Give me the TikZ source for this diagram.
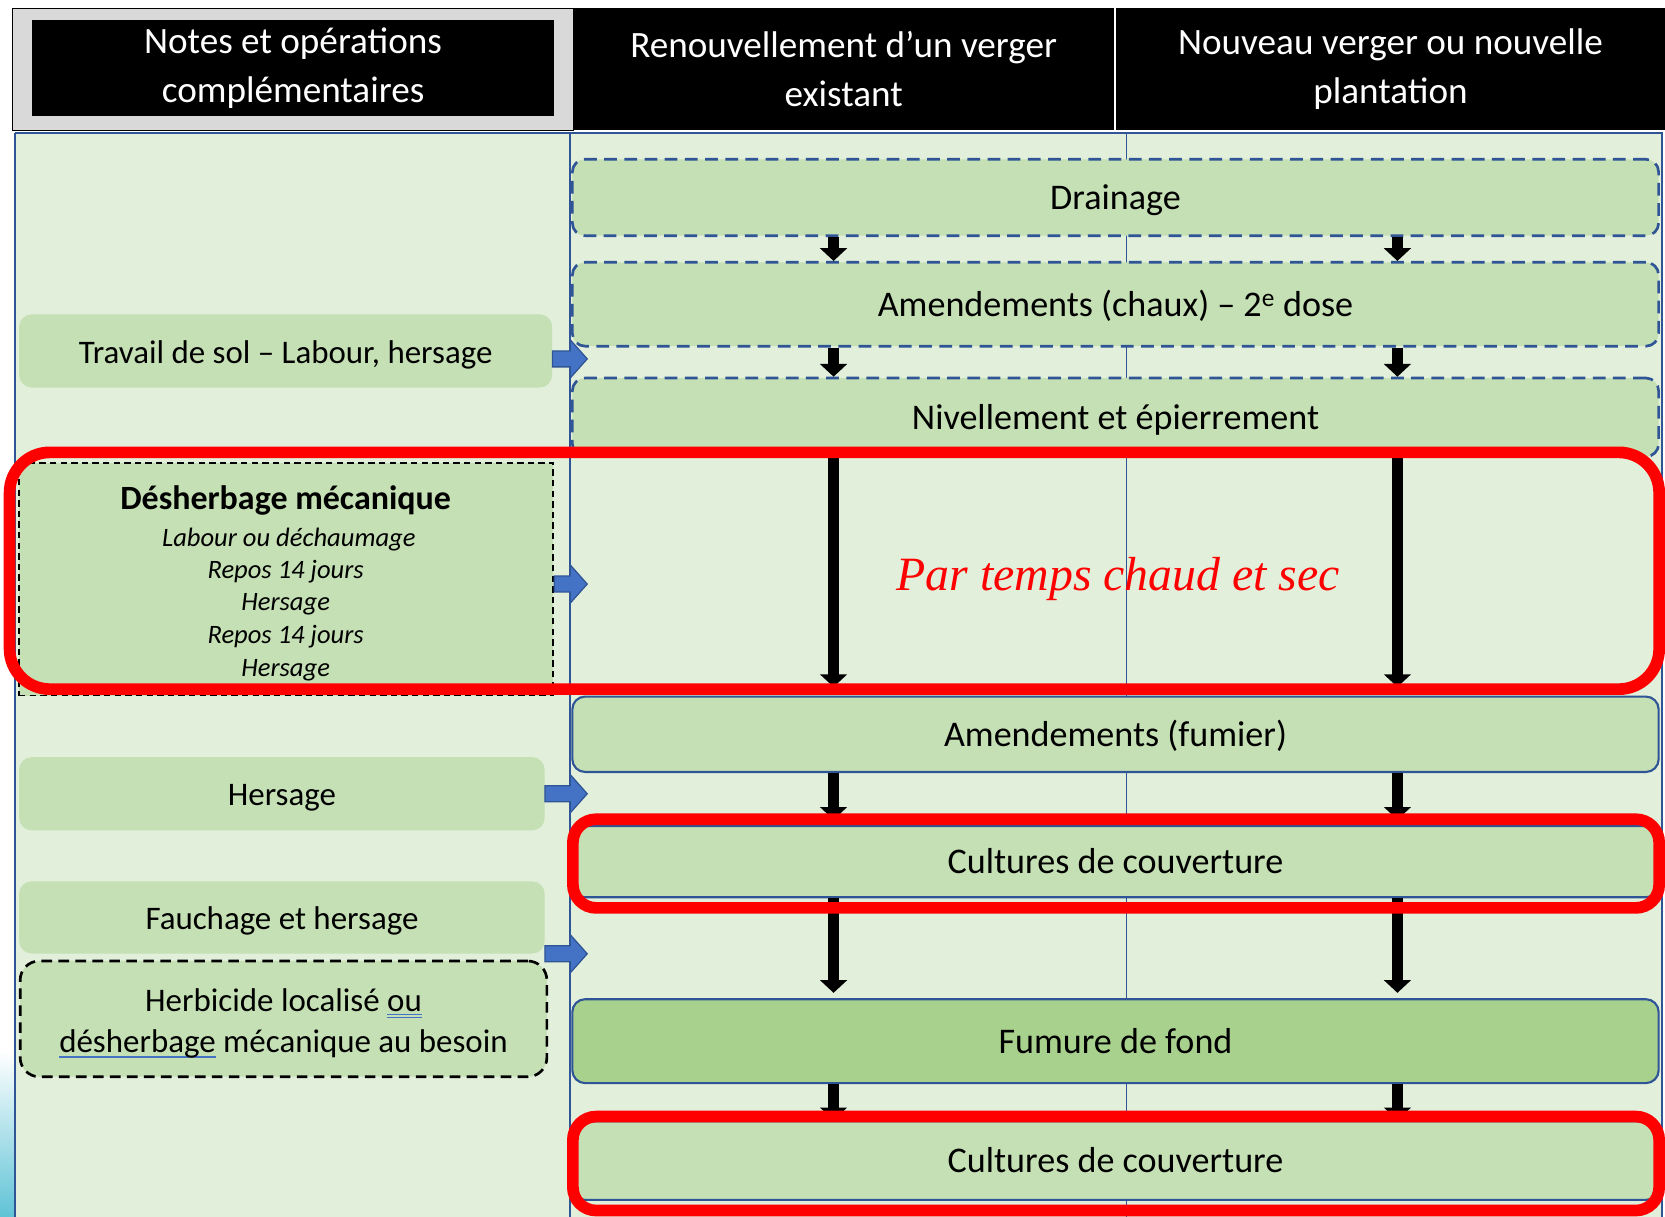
\documentclass[tikz,border=0pt]{standalone}
\usepackage{fontspec}
\setmainfont{Carlito}
\newfontfamily\timesfont{Liberation Serif}
\usetikzlibrary{arrows.meta,calc}
\definecolor{bgg}{HTML}{E2EFDA}
\definecolor{boxg}{HTML}{C5E0B4}
\definecolor{boxd}{HTML}{A9D18E}
\definecolor{bordb}{HTML}{2F5597}
\definecolor{arrb}{HTML}{4472C4}
\definecolor{hgray}{HTML}{D9D9D9}
\definecolor{ulblue}{HTML}{4472C4}
\definecolor{redc}{HTML}{FF0000}
\definecolor{logoc}{HTML}{5FC3D6}
\newcommand\spellul[1]{\setbox0\hbox{#1}\rlap{\color{ulblue}\rule[-5pt]{\wd0}{1.2pt}}\box0\relax}
\newcommand\grammul[1]{\setbox0\hbox{#1}\rlap{\color{ulblue}\rule[-4pt]{\wd0}{0.9pt}}\rlap{\color{ulblue}\rule[-7pt]{\wd0}{0.9pt}}\box0\relax}
% block arrow from node anchor #1 to the x of coordinate #2
\newcommand\blockarrow[2]{%
  \draw[blk] ($(#1)+(0,-7.5)$) -- ($(#1 -| #2)+(-16,-7.5)$) -- ($(#1 -| #2)+(-16,-18)$)
    -- (#1 -| #2) -- ($(#1 -| #2)+(-16,18)$) -- ($(#1 -| #2)+(-16,7.5)$) -- ($(#1)+(0,7.5)$) -- cycle;}
\begin{document}
\begin{tikzpicture}[x=1pt,y=-1pt,
  mainfont/.style={font=\fontsize{34}{44}\selectfont},
  notefont/.style={font=\fontsize{31}{39}\selectfont},
  mbox/.style={rounded corners=12pt, fill=boxg, draw=bordb, line width=2pt, minimum width=1023pt, inner sep=0pt, mainfont, text height=29pt, text depth=6pt},
  dbox/.style={mbox, dash pattern=on 12pt off 7pt, line width=2.5pt},
  nbox/.style={rounded corners=12pt, fill=boxg, inner sep=0pt, notefont, align=center},
  hcell/.style={fill=black, text=white, inner sep=0pt, align=center, font=\fontsize{35}{46}\selectfont},
  barrow/.style={draw=black, line width=10pt, -{Triangle[width=25pt,length=12pt]}},
  blk/.style={fill=arrb, draw=bordb, line width=1.2pt, line join=miter},
  redring/.style={draw=redc, line width=11pt, rounded corners=38pt},
  redring2/.style={draw=redc, line width=11pt, rounded corners=22pt},
  itl/.style={font=\itshape\fontsize{25}{30}\selectfont, inner sep=0pt},
]
\useasboundingbox (0,0) rectangle (1568,1146);
\fill[white] (0,0) rectangle (1568,1146);
\fill[bgg] (14,125) rectangle (1566,1146);
\shade[top color=white, bottom color=logoc] (0,990) rectangle (13,1146);

% header
\node[draw=black, line width=1.2pt, fill=hgray, minimum width=528pt, minimum height=115pt, inner sep=0pt] (hg) at (276,65.5) {};
\node[hcell, minimum width=492pt, minimum height=90pt] (h1) at (276,64) {Notes et opérations\\complémentaires};
\node[hcell, minimum width=509pt, minimum height=114pt] (h2) at (794.5,65) {Renouvellement d’un verger\\existant};
\node[hcell, minimum width=517pt, minimum height=114pt] (h3) at (1309.5,65) {Nouveau verger ou nouvelle\\plantation};

% grid lines
\draw[bordb, line width=1.5pt] (14,125) -- (1566,125);
\draw[bordb, line width=1.5pt] (14,125) -- (14,1146);
\draw[bordb, line width=1.5pt] (537,125) -- (537,1146);
\draw[bordb, line width=1.5pt] (1061,125) -- (1061,1146);
\draw[bordb, line width=1.5pt] (1565,125) -- (1565,1146);

% main boxes
\node[dbox, minimum height=72pt] (drain) at (1050.5,186) {Drainage};
\node[dbox, minimum height=79pt] (chaux) at (1050.5,286.5) {Amendements (chaux) – 2\textsuperscript{e} dose};
\node[dbox, minimum height=74pt] (niv) at (1050.5,393) {Nivellement et épierrement};
\node[mbox, minimum height=71pt] (fumier) at (1050.5,691.5) {Amendements (fumier)};
\node[mbox, minimum height=67pt] (cult1) at (1050.5,811.5) {Cultures de couverture};
\node[mbox, fill=boxd, minimum height=79pt] (fumure) at (1050.5,980.5) {Fumure de fond};
\node[mbox, minimum height=74pt] (cult2) at (1050.5,1093) {Cultures de couverture};

\node[text=redc, font=\timesfont\itshape\fontsize{45}{50}\selectfont] (temps) at (1053,545) {Par temps chaud et sec};

% black arrows
\coordinate (cA) at (785,0);
\coordinate (cB) at (1316,0);
\foreach \c in {cA,cB}{
  \draw[barrow] (drain.south -| \c) -- (chaux.north -| \c);
  \draw[barrow] (chaux.south -| \c) -- (niv.north -| \c);
  \draw[barrow, shorten >=8pt] (niv.south -| \c) -- (fumier.north -| \c);
  \draw[barrow, shorten >=5pt] (fumier.south -| \c) -- (cult1.north -| \c);
  \draw[barrow, shorten >=5pt] (cult1.south -| \c) -- (fumure.north -| \c);
  \draw[barrow] (fumure.south -| \c) -- (cult2.north -| \c);
}

% left notes
\node[nbox, minimum width=502pt, minimum height=69pt, text height=29pt, text depth=6pt] (travail) at (269,330.5) {Travail de sol – Labour, hersage};
\node[nbox, rounded corners=0pt, draw=black, dash pattern=on 6pt off 4pt, line width=1.8pt, minimum width=503pt, minimum height=219pt] (desh) at (269.5,545.5) {};
\node[font=\bfseries\fontsize{32}{38}\selectfont, inner sep=0pt] (d0) at (269,471) {Désherbage mécanique};
\node[itl] (d1) at (272,508) {Labour ou déchaumage};
\node[itl] (d2) at (269,538) {Repos 14 jours};
\node[itl] (d3) at (269,569) {Hersage};
\node[itl] (d4) at (269,600) {Repos 14 jours};
\node[itl] (d5) at (269,631) {Hersage};
\node[nbox, minimum width=495pt, minimum height=69pt, text height=28pt, text depth=6pt] (hers) at (265.5,747.5) {Hersage};
\node[nbox, minimum width=495pt, minimum height=68pt, text height=29pt, text depth=6pt] (fauch) at (265.5,864) {Fauchage et hersage};
\node[nbox, draw=black, dash pattern=on 10pt off 6pt, line width=2.5pt, rounded corners=18pt, minimum width=496pt, minimum height=109pt] (herb) at (267,959.5) {};
\node[notefont, align=center, inner sep=0pt] (herbt) at ([yshift=-4pt]herb.center) {Herbicide localisé \grammul{ou}\\\spellul{désherbage} mécanique au besoin};

% blue block arrows
\coordinate (colL) at (553,0);
\coordinate (ta) at ([yshift=-7.5pt]travail.east);
\coordinate (da) at ([yshift=-4.5pt]desh.east);
\blockarrow{ta}{colL}
\blockarrow{da}{colL}
\blockarrow{hers.east}{colL}
\blockarrow{fauch.south east}{colL}

% red rings
\draw[redring] (9,426) rectangle (1562.5,649);
\draw[redring2] (539.5,771.5) rectangle (1562.5,855);
\draw[redring2] (539.5,1051.5) rectangle (1562.5,1140);
\end{tikzpicture}
\end{document}
